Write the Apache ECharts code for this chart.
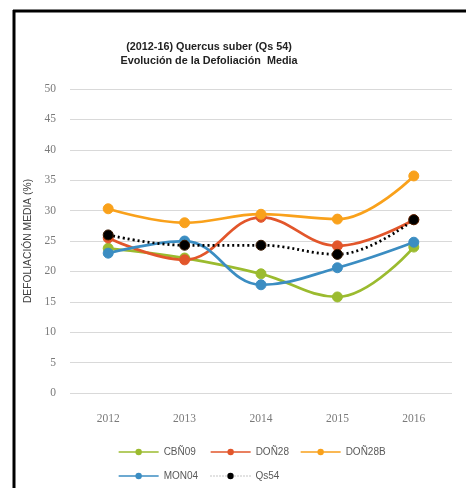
<!DOCTYPE html>
<html><head><meta charset="utf-8">
<script src="https://cdn.jsdelivr.net/npm/echarts@6/dist/echarts.min.js"></script>
<style>html,body{margin:0;padding:0;background:#fff}#c{width:466px;height:488px}</style>
</head><body><div id="c"></div>
<script>
var years = ['2012','2013','2014','2015','2016'];
var cbn09 = [23.8, 22.2, 19.6, 15.8, 24.0];
var don28 = [25.5, 21.9, 28.9, 24.2, 28.5];
var don28b = [30.3, 28.0, 29.4, 28.6, 35.7];
var mon04 = [23.0, 25.0, 17.8, 20.6, 24.8];
var qs54 = [26.0, 24.3, 24.3, 22.8, 28.5];
var seriesNames = ['CBÑ09','DOÑ28','DOÑ28B','MON04','Qs54'];
var colors = ['#9BBB2F','#E2562B','#F9A11B','#3B8DC2','#000000'];
var dataSets = [cbn09, don28, don28b, mon04, qs54];

var chart = echarts.init(document.getElementById('c'));
var legendPos = [[113,442],[205,442],[295,442],[113,466],[205,466]];
var legends = seriesNames.map(function(n,i){
  var dotted = (n === 'Qs54');
  return {data:[n], left:legendPos[i][0], top:legendPos[i][1], itemWidth:40, itemHeight:8,
    lineStyle: dotted ? {width:1, color:'#8a8a8a', type:[1,2]} : {width:1.3},
    itemStyle:{borderWidth:0},
    textStyle:{fontFamily:'Liberation Sans', fontSize:10, color:'#595959'}, selectedMode:false};
});
var series = seriesNames.map(function(n,i){
  var dotted = (n === 'Qs54');
  return {
    name:n, type:'line', data:dataSets[i], smooth:0.4,
    symbol:'circle', symbolSize:10,
    lineStyle:{color:colors[i], width:2.75, type: dotted ? [2,3] : 'solid'},
    itemStyle:{color:colors[i], borderColor: dotted ? '#3a1a00' : colors[i], borderWidth:1},
    z: dotted ? 5 : 2
  };
});
chart.setOption({
  animation:false,
  color:colors,
  title:{
    text:'(2012-16) Quercus suber (Qs 54)\nEvolución de la Defoliación  Media',
    left:204, top:35, textAlign:'center',
    textStyle:{fontFamily:'Liberation Sans', fontSize:10.8, fontWeight:'bold', color:'#222', lineHeight:14}
  },
  legend:legends,
  grid:{left:70, right:14, top:89, bottom:95},
  xAxis:{type:'category', data:years, boundaryGap:true,
    axisLine:{show:false}, axisTick:{show:false},
    axisLabel:{fontFamily:'Liberation Serif', fontSize:11.5, color:'#7a7a7a', margin:20}},
  yAxis:{type:'value', min:0, max:50, interval:5,
    name:'DEFOLIACIÓN MEDIA (%)', nameLocation:'middle', nameGap:36, nameRotate:90,
    nameTextStyle:{fontFamily:'Liberation Sans', fontSize:10.3, color:'#404040'},
    axisLabel:{fontFamily:'Liberation Serif', fontSize:11.5, color:'#7a7a7a', margin:14},
    splitLine:{lineStyle:{color:'#d9d9d9', width:1}}, axisLine:{show:false}, axisTick:{show:false}},
  graphic:[
    {type:'line', shape:{x1:13, y1:11, x2:466, y2:11}, style:{stroke:'#000', lineWidth:3}},
    {type:'line', shape:{x1:14, y1:10, x2:14, y2:488}, style:{stroke:'#000', lineWidth:3}}
  ],
  series:series
});
</script></body></html>
